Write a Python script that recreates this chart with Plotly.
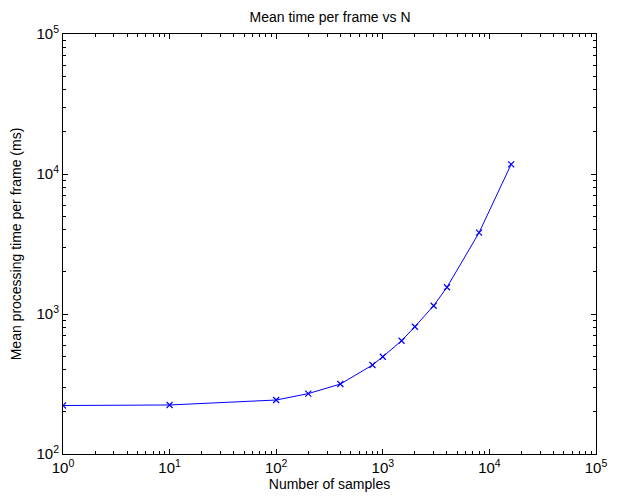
import plotly.graph_objects as go

samples = [1, 10, 100, 200, 400, 800, 1000, 1500, 2000, 3000, 4000, 8000, 16000]
time_ms = [222, 224, 243, 270, 316, 432, 495, 644, 811, 1146, 1552, 3811, 11730]

x_tickvals = [1, 10, 100, 1000, 10000, 100000]
x_ticktext = ["10<sup>0</sup>", "10<sup>1</sup>", "10<sup>2</sup>", "10<sup>3</sup>", "10<sup>4</sup>", "10<sup>5</sup>"]
y_tickvals = [100, 1000, 10000, 100000]
y_ticktext = ["10<sup>2</sup>", "10<sup>3</sup>", "10<sup>4</sup>", "10<sup>5</sup>"]

fig = go.Figure()
fig.add_trace(go.Scatter(
    x=samples, y=time_ms, mode="lines+markers",
    line=dict(color="#0000ff", width=1),
    marker=dict(symbol="x-thin", size=6, line=dict(color="#0000ff", width=1.2)),
    showlegend=False,
))

font = "Liberation Sans, Arial, sans-serif"
axis_common = dict(
    type="log", showgrid=False, zeroline=False, automargin=False,
    showline=True, linecolor="black", linewidth=1, mirror="allticks",
    ticks="inside", ticklen=5, tickcolor="black",
    minor=dict(ticks="inside", ticklen=3, dtick="D1", tickcolor="black", showgrid=False),
    tickfont=dict(family=font, size=15, color="black"),
)

# page body adds an 8px margin, so the figure is sized to fit inside the window
fig.update_layout(
    width=603, height=486,
    margin=dict(l=55, r=15, t=26, b=40),
    paper_bgcolor="white", plot_bgcolor="white",
    title=dict(text="Mean time per frame vs N", x=0.534, xanchor="center",
               y=1, yanchor="top", yref="container", pad=dict(t=4),
               font=dict(family=font, size=14, color="black")),
    xaxis=dict(axis_common, range=[0, 5], tickvals=x_tickvals, ticktext=x_ticktext,
               title=dict(text="Number of samples", font=dict(family=font, size=14, color="black"), standoff=3)),
    yaxis=dict(axis_common, range=[2, 5], tickvals=y_tickvals, ticktext=y_ticktext,
               title=dict(text="Mean processing time per frame (ms)", font=dict(family=font, size=14, color="black"), standoff=13)),
)

fig.write_html("out.html")
